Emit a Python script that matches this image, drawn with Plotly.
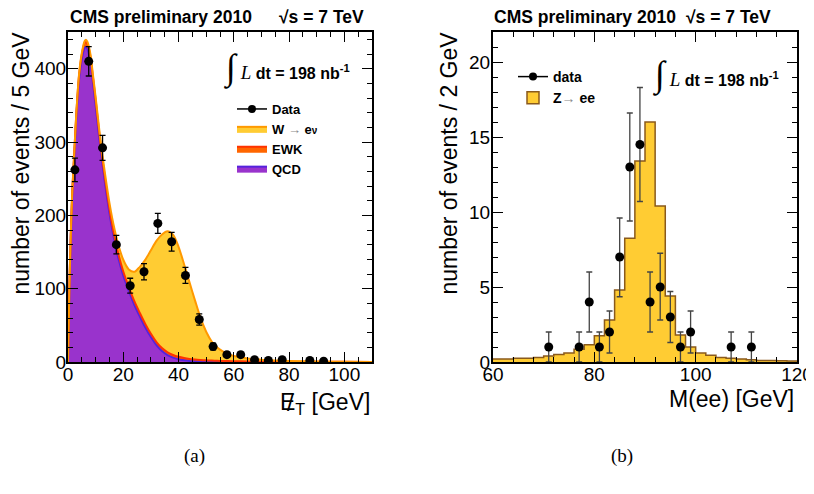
import plotly.graph_objects as go

# ---------------- left panel: missing ET, stacked fit components ----------------
met_grid = [0, 0.5, 1, 1.5, 2, 2.5, 3, 4, 5, 6, 6.5, 7, 8, 9, 10, 11, 12, 13, 14, 15, 16, 17, 18,
            20, 22, 24, 26, 28, 30, 32, 34, 36, 38, 40, 42, 44, 46, 48, 50, 52, 54, 56, 58, 60,
            65, 70, 75, 80, 90, 100, 110]
qcd = [0, 100, 170, 225, 262, 298, 333, 385, 413, 428, 430, 427, 412, 382, 350, 316, 283, 255, 228,
       203, 181, 162, 145, 118, 97, 78, 62, 47, 34, 23, 15, 9.5, 6, 3.8, 2.4, 1.5, 1, 0.7, 0.5,
       0.35, 0.25, 0.2, 0.15, 0.1, 0.05, 0, 0, 0, 0, 0, 0]
ewk = [0, 1, 2, 3, 3.5, 4, 4.5, 5.5, 6.5, 7, 7, 7, 7, 7, 7, 6.8, 6.6, 6.4, 6.2, 6, 6, 5.8, 5.6,
       5.4, 5.2, 5, 4.8, 4.6, 4.4, 4.2, 4, 3.8, 3.6, 3.3, 3, 2.7, 2.4, 2.1, 1.8, 1.6, 1.4, 1.2,
       1.1, 1, 0.8, 0.6, 0.5, 0.4, 0.3, 0.2, 0.1]
wenu = [0, 0.2, 0.4, 0.6, 0.8, 1, 1.2, 1.6, 2, 2.4, 2.6, 2.8, 3.2, 3.6, 4, 4.6, 5.3, 6, 7, 8, 9.2,
        10.5, 12, 16, 24, 40, 63, 88, 114, 138, 155, 165, 164, 150, 128, 104, 80, 57, 39, 26, 18,
        13, 9.5, 7, 4, 2.5, 1.6, 1, 0.4, 0.15, 0.05]

met_bins = [2.5, 7.5, 12.5, 17.5, 22.5, 27.5, 32.5, 37.5, 42.5, 47.5, 52.5, 57.5, 62.5, 67.5,
            72.5, 77.5, 87.5, 92.5]
met_data = [262, 410, 292, 160, 104, 123, 189, 164, 118, 58, 21, 10, 10, 3, 2, 3, 2, 1]
met_err = [16, 20, 17, 12.6, 10.2, 11.1, 13.7, 12.8, 10.9, 7.6, 4.6, 3.2, 3.2, 1.7, 1.4, 1.7, 1.4, 1]

# ---------------- right panel: M(ee) ----------------
mee_edges = list(range(60, 121, 2))
zee_mc = [0.2, 0.2, 0.25, 0.25, 0.3, 0.4, 0.5, 0.6, 0.85, 1.15, 1.75, 2.8, 4.8, 8.25, 13.4, 16.0,
          10.4, 4.4, 1.8, 1.0, 0.6, 0.45, 0.3, 0.25, 0.2, 0.15, 0.1, 0.1, 0.08, 0.07]
mee_x = [71, 77, 79, 81, 83, 85, 87, 89, 91, 93, 95, 97, 99, 107, 111]
mee_data = [1, 1, 4, 1, 2, 7, 13, 14.5, 4, 5, 3, 1, 2, 1, 1]
mee_err_up = [1, 1, 2, 1, 1.4, 2.6, 3.6, 3.8, 2, 2.25, 1.7, 1, 1.4, 1, 1]
mee_err_dn = [1, 1, 2, 1, 1.4, 2.65, 3.6, 3.8, 2, 2.2, 1.7, 1, 1.4, 1, 1]

FONT = "Liberation Sans"
SERIF = "Liberation Serif"

# the page body has an 8px margin, so the figure is 8px smaller and everything is shifted
W, H, OFF = 806, 486, 8


def px(x):
    return (x - OFF) / W


def py(y):
    return 1 - (y - OFF) / H


fig = go.Figure()

# stacked components (QCD bottom, EWK, W on top)
for name, vals, fillc, linec, rank in [
    ("<b>QCD</b>", qcd, "#9933cc", "#5522dd", 4),
    ("<b>EWK</b>", ewk, "#ff6600", "#ff3300", 3),
    ("<b>W <span style='color:#888888'>→</span> e<span style='font-size:10px'>ν</span></b>", wenu, "#ffcc33", "#ff9900", 2),
]:
    fig.add_trace(go.Scatter(x=met_grid, y=vals, stackgroup="met", mode="lines",
                             line=dict(color=linec, width=2, shape="spline", smoothing=0.8),
                             fillcolor=fillc, name=name, legendrank=rank,
                             xaxis="x", yaxis="y", legend="legend"))

fig.add_trace(go.Scatter(x=met_bins, y=met_data, mode="markers",
                         marker=dict(color="black", size=9),
                         error_y=dict(type="data", array=met_err, color="black", thickness=1.3, width=3),
                         showlegend=False, xaxis="x", yaxis="y"))
fig.add_trace(go.Scatter(x=[None], y=[None], mode="lines+markers", name="<b>Data</b>",
                         marker=dict(color="black", size=8), line=dict(color="black", width=1.5),
                         legendrank=1, xaxis="x", yaxis="y", legend="legend"))

# right: Z->ee histogram as filled step outline
fig.add_trace(go.Scatter(x=mee_edges, y=zee_mc + [zee_mc[-1]], mode="lines",
                         line=dict(color="#8a5a1c", width=1.5, shape="hv"),
                         fill="tozeroy", fillcolor="#ffcc33", showlegend=False,
                         xaxis="x2", yaxis="y2"))
fig.add_trace(go.Scatter(x=mee_x, y=mee_data, mode="markers",
                         marker=dict(color="black", size=9),
                         error_y=dict(type="data", array=mee_err_up, arrayminus=mee_err_dn,
                                      color="#444444", thickness=1.3, width=3),
                         showlegend=False, xaxis="x2", yaxis="y2"))
fig.add_trace(go.Scatter(x=[None], y=[None], mode="lines+markers", name="<b>data</b>",
                         marker=dict(color="black", size=8), line=dict(color="black", width=1.5),
                         legendrank=1, xaxis="x2", yaxis="y2", legend="legend2"))
fig.add_trace(go.Bar(x=[None], y=[None], name="<b>Z<span style='color:#888888'>→</span> ee</b>",
                     marker=dict(color="#ffcc33", line=dict(color="#8a5a1c", width=1.5)),
                     legendrank=2, xaxis="x2", yaxis="y2", legend="legend2"))


def axis(rng, dtick, mdtick, domain, anchor, standoff):
    return dict(range=rng, dtick=dtick, domain=domain, anchor=anchor, automargin=False,
                showline=True, linecolor="black", linewidth=2, mirror="allticks",
                ticks="inside", ticklen=10, tickwidth=1.2, tickcolor="black",
                minor=dict(ticks="inside", ticklen=5, tickwidth=1, tickcolor="black", dtick=mdtick),
                showgrid=False, zeroline=False, ticklabelstandoff=standoff,
                tickfont=dict(size=19, family=FONT, color="black"))


ydom = [py(362), py(32)]
fig.update_layout(
    width=W, height=H,
    margin=dict(l=0, r=0, t=0, b=0),
    paper_bgcolor="white", plot_bgcolor="white",
    font=dict(family=FONT, color="black"),
    xaxis=axis([0, 110], 20, 5, [px(68), px(372)], "y", -6),
    yaxis=axis([0, 450], 100, 20, ydom, "x", -4),
    xaxis2=axis([60, 120], 20, 4, [px(493), px(797)], "y2", -6),
    yaxis2=axis([0, 22], 5, 1, ydom, "x2", -3),
    legend=dict(x=px(232), y=py(94), xanchor="left", yanchor="top", traceorder="normal",
                bgcolor="rgba(0,0,0,0)", font=dict(size=13, family=FONT), tracegroupgap=0),
    legend2=dict(x=px(513), y=py(61), xanchor="left", yanchor="top", traceorder="normal",
                 bgcolor="rgba(0,0,0,0)", font=dict(size=14, family=FONT), tracegroupgap=0),
    showlegend=True,
)

ann = []
integral = ("<span style='font-family:Liberation Serif;font-size:36px'>∫</span>"
            "<span style='font-family:Liberation Serif;font-size:19px'> <i>L</i></span>"
            "<b> dt = 198 nb<sup>-1</sup></b>")
for xl, xr, xi, yi in [(68, 366, 222, 68), (492, 773, 651, 75)]:
    ann.append(dict(text="<b>CMS preliminary 2010</b>", x=px(xl), y=py(17),
                    xanchor="left", yanchor="middle", font=dict(size=17.5)))
    ann.append(dict(text="<b>√s = 7 TeV</b>", x=px(xr), y=py(17),
                    xanchor="right", yanchor="middle", font=dict(size=17.5)))
    ann.append(dict(text=integral, x=px(xi), y=py(yi),
                    xanchor="left", yanchor="middle", font=dict(size=16)))

ann.append(dict(text="number of events / 5 GeV", x=px(20), y=py(30), textangle=-90,
                xanchor="center", yanchor="top", font=dict(size=23)))
ann.append(dict(text="number of events / 2 GeV", x=px(448), y=py(30), textangle=-90,
                xanchor="center", yanchor="top", font=dict(size=23)))
# missing-ET label: E with an overlaid slash
ann.append(dict(text="E<sub>T</sub> [GeV]", x=px(372), y=py(403),
                xanchor="right", yanchor="middle", font=dict(size=23)))
ann.append(dict(text="/", x=px(290), y=py(402),
                xanchor="center", yanchor="middle", font=dict(size=24)))
ann.append(dict(text="M(ee) [GeV]", x=px(796), y=py(399),
                xanchor="right", yanchor="middle", font=dict(size=23)))
ann.append(dict(text="(a)", x=px(194), y=py(456), xanchor="center", yanchor="middle",
                font=dict(size=19, family=SERIF)))
ann.append(dict(text="(b)", x=px(622), y=py(456), xanchor="center", yanchor="middle",
                font=dict(size=19, family=SERIF)))
for a in ann:
    a.update(xref="paper", yref="paper", showarrow=False)
fig.update_layout(annotations=ann)

fig.write_html("out.html")
